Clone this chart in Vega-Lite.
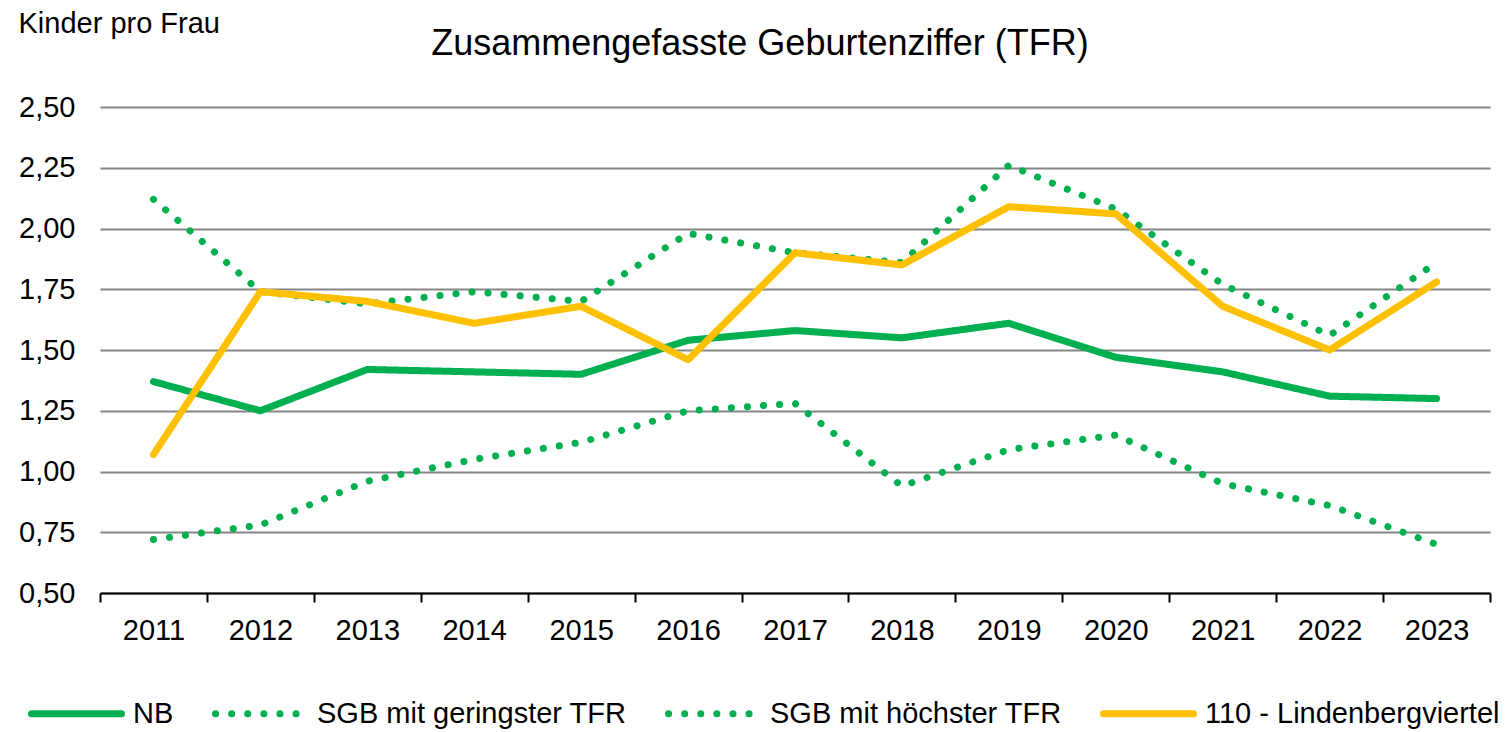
{
  "$schema": "https://vega.github.io/schema/vega-lite/v6.json",
  "width": 1390,
  "height": 486,
  "autosize": {"type": "none"},
  "padding": {"left": 100, "top": 107, "right": 16, "bottom": 139},
  "background": "white",
  "title": {
    "text": "Zusammengefasste Geburtenziffer (TFR)",
    "fontSize": 36,
    "font": "Liberation Sans",
    "fontWeight": "normal",
    "color": "#000000",
    "anchor": "middle",
    "dx": -35,
    "baseline": "alphabetic",
    "offset": -82
  },
  "data": {
    "values": [
      {"Jahr": "2011", "Serie": "NB", "TFR": 1.37},
      {"Jahr": "2012", "Serie": "NB", "TFR": 1.25},
      {"Jahr": "2013", "Serie": "NB", "TFR": 1.42},
      {"Jahr": "2014", "Serie": "NB", "TFR": 1.41},
      {"Jahr": "2015", "Serie": "NB", "TFR": 1.40},
      {"Jahr": "2016", "Serie": "NB", "TFR": 1.54},
      {"Jahr": "2017", "Serie": "NB", "TFR": 1.58},
      {"Jahr": "2018", "Serie": "NB", "TFR": 1.55},
      {"Jahr": "2019", "Serie": "NB", "TFR": 1.61},
      {"Jahr": "2020", "Serie": "NB", "TFR": 1.47},
      {"Jahr": "2021", "Serie": "NB", "TFR": 1.41},
      {"Jahr": "2022", "Serie": "NB", "TFR": 1.31},
      {"Jahr": "2023", "Serie": "NB", "TFR": 1.30},
      {"Jahr": "2011", "Serie": "SGB mit geringster TFR", "TFR": 0.72},
      {"Jahr": "2012", "Serie": "SGB mit geringster TFR", "TFR": 0.78},
      {"Jahr": "2013", "Serie": "SGB mit geringster TFR", "TFR": 0.96},
      {"Jahr": "2014", "Serie": "SGB mit geringster TFR", "TFR": 1.05},
      {"Jahr": "2015", "Serie": "SGB mit geringster TFR", "TFR": 1.12},
      {"Jahr": "2016", "Serie": "SGB mit geringster TFR", "TFR": 1.25},
      {"Jahr": "2017", "Serie": "SGB mit geringster TFR", "TFR": 1.28},
      {"Jahr": "2018", "Serie": "SGB mit geringster TFR", "TFR": 0.94},
      {"Jahr": "2019", "Serie": "SGB mit geringster TFR", "TFR": 1.09},
      {"Jahr": "2020", "Serie": "SGB mit geringster TFR", "TFR": 1.15},
      {"Jahr": "2021", "Serie": "SGB mit geringster TFR", "TFR": 0.95},
      {"Jahr": "2022", "Serie": "SGB mit geringster TFR", "TFR": 0.86},
      {"Jahr": "2023", "Serie": "SGB mit geringster TFR", "TFR": 0.70},
      {"Jahr": "2011", "Serie": "SGB mit höchster TFR", "TFR": 2.12},
      {"Jahr": "2012", "Serie": "SGB mit höchster TFR", "TFR": 1.74},
      {"Jahr": "2013", "Serie": "SGB mit höchster TFR", "TFR": 1.69},
      {"Jahr": "2014", "Serie": "SGB mit höchster TFR", "TFR": 1.74},
      {"Jahr": "2015", "Serie": "SGB mit höchster TFR", "TFR": 1.70},
      {"Jahr": "2016", "Serie": "SGB mit höchster TFR", "TFR": 1.98},
      {"Jahr": "2017", "Serie": "SGB mit höchster TFR", "TFR": 1.90},
      {"Jahr": "2018", "Serie": "SGB mit höchster TFR", "TFR": 1.86},
      {"Jahr": "2019", "Serie": "SGB mit höchster TFR", "TFR": 2.26},
      {"Jahr": "2020", "Serie": "SGB mit höchster TFR", "TFR": 2.08},
      {"Jahr": "2021", "Serie": "SGB mit höchster TFR", "TFR": 1.77},
      {"Jahr": "2022", "Serie": "SGB mit höchster TFR", "TFR": 1.56},
      {"Jahr": "2023", "Serie": "SGB mit höchster TFR", "TFR": 1.86},
      {"Jahr": "2011", "Serie": "110 - Lindenbergviertel", "TFR": 1.07},
      {"Jahr": "2012", "Serie": "110 - Lindenbergviertel", "TFR": 1.74},
      {"Jahr": "2013", "Serie": "110 - Lindenbergviertel", "TFR": 1.70},
      {"Jahr": "2014", "Serie": "110 - Lindenbergviertel", "TFR": 1.61},
      {"Jahr": "2015", "Serie": "110 - Lindenbergviertel", "TFR": 1.68},
      {"Jahr": "2016", "Serie": "110 - Lindenbergviertel", "TFR": 1.46},
      {"Jahr": "2017", "Serie": "110 - Lindenbergviertel", "TFR": 1.90},
      {"Jahr": "2018", "Serie": "110 - Lindenbergviertel", "TFR": 1.85},
      {"Jahr": "2019", "Serie": "110 - Lindenbergviertel", "TFR": 2.09},
      {"Jahr": "2020", "Serie": "110 - Lindenbergviertel", "TFR": 2.06},
      {"Jahr": "2021", "Serie": "110 - Lindenbergviertel", "TFR": 1.68},
      {"Jahr": "2022", "Serie": "110 - Lindenbergviertel", "TFR": 1.50},
      {"Jahr": "2023", "Serie": "110 - Lindenbergviertel", "TFR": 1.78}
    ]
  },
  "mark": {"type": "line", "strokeWidth": 7, "strokeCap": "round", "strokeJoin": "round"},
  "encoding": {
    "x": {
      "field": "Jahr",
      "type": "ordinal",
      "bandPosition": 0.5,
      "scale": {"type": "band", "paddingInner": 0, "paddingOuter": 0},
      "axis": {
        "title": null,
        "labelAngle": 0,
        "labelFontSize": 29,
        "labelFont": "Liberation Sans",
        "labelColor": "#000000",
        "labelPadding": 14,
        "tickBand": "extent",
        "tickSize": 9,
        "tickWidth": 2,
        "tickColor": "#000000",
        "domainColor": "#000000",
        "domainWidth": 2,
        "grid": false
      }
    },
    "y": {
      "field": "TFR",
      "type": "quantitative",
      "scale": {"domain": [0.5, 2.5], "nice": false, "zero": false},
      "axis": {
        "title": "Kinder pro Frau",
        "titleAngle": 0,
        "titleAlign": "left",
        "titleBaseline": "top",
        "titleX": -82,
        "titleY": -98,
        "titleFontSize": 29,
        "titleFont": "Liberation Sans",
        "titleFontWeight": "normal",
        "titleColor": "#000000",
        "values": [0.5, 0.75, 1, 1.25, 1.5, 1.75, 2, 2.25, 2.5],
        "format": ".2f",
        "formatType": "number",
        "labelExpr": "replace(datum.label, '.', ',')",
        "labelFontSize": 29,
        "labelFont": "Liberation Sans",
        "labelColor": "#000000",
        "labelPadding": 25,
        "ticks": false,
        "domain": false,
        "grid": true,
        "gridColor": "#858585",
        "gridWidth": 2.2
      }
    },
    "color": {
      "field": "Serie",
      "type": "nominal",
      "sort": ["NB", "SGB mit geringster TFR", "SGB mit höchster TFR", "110 - Lindenbergviertel"],
      "scale": {
        "domain": ["NB", "SGB mit geringster TFR", "SGB mit höchster TFR", "110 - Lindenbergviertel"],
        "range": ["#00B050", "#00B050", "#00B050", "#FFC000"]
      },
      "legend": {
        "title": null,
        "orient": "none",
        "direction": "horizontal",
        "columns": 4,
        "legendX": -72,
        "legendY": 558,
        "symbolType": "stroke",
        "symbolSize": 8100,
        "symbolStrokeWidth": 7,
        "labelFontSize": 29,
        "labelFont": "Liberation Sans",
        "labelColor": "#000000",
        "labelOffset": 8,
        "columnPadding": 27,
        "labelLimit": 500,
        "encode": {"symbols": {"update": {"strokeCap": {"value": "round"}}}}
      }
    },
    "strokeDash": {
      "field": "Serie",
      "type": "nominal",
      "sort": ["NB", "SGB mit geringster TFR", "SGB mit höchster TFR", "110 - Lindenbergviertel"],
      "scale": {
        "domain": ["NB", "SGB mit geringster TFR", "SGB mit höchster TFR", "110 - Lindenbergviertel"],
        "range": [[1, 0], [0.1, 16], [0.1, 16], [1, 0]]
      }
    },
    "order": {"value": 0}
  },
  "config": {
    "view": {"stroke": null},
    "font": "Liberation Sans"
  }
}
